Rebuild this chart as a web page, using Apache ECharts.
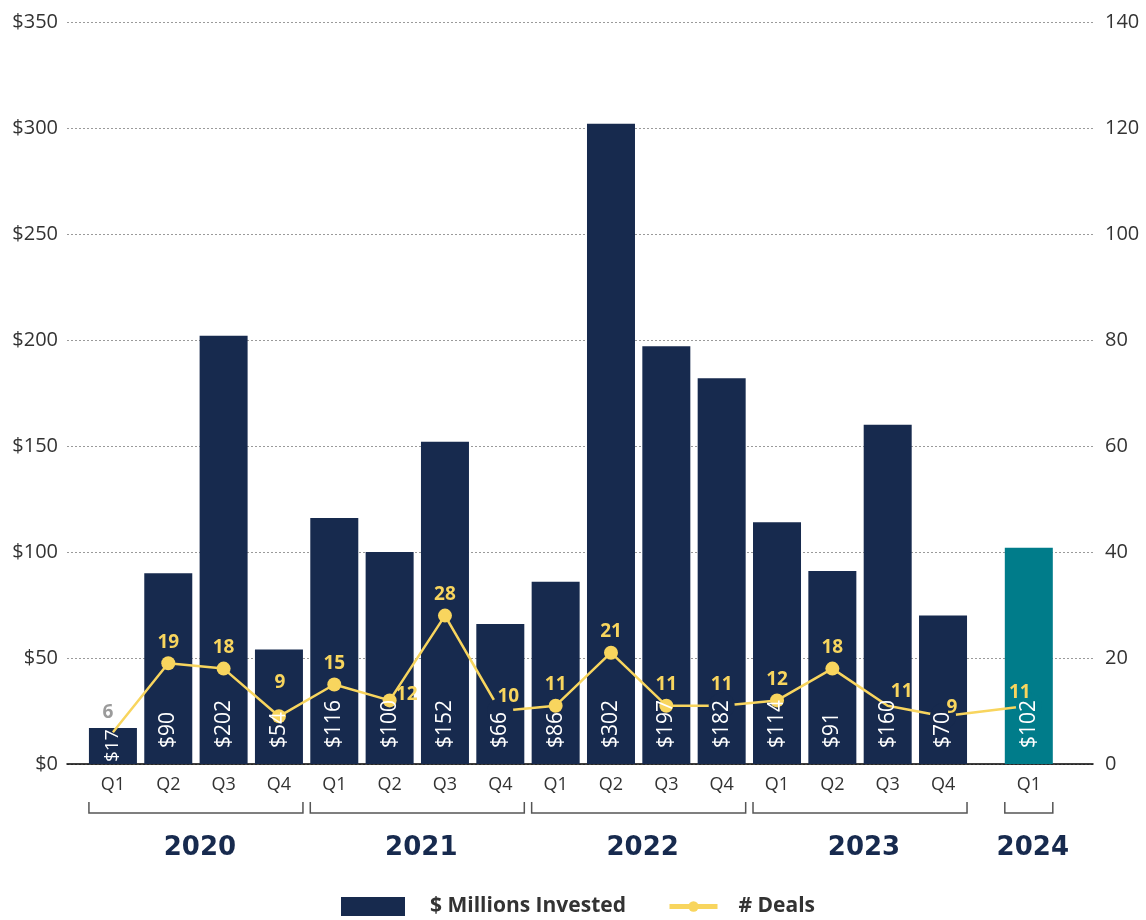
<!DOCTYPE html>
<html>
<head>
<meta charset="utf-8">
<title>Investment by Quarter</title>
<script src="https://cdn.jsdelivr.net/npm/echarts@6/dist/echarts.min.js"></script>
<style>
  html, body { margin: 0; padding: 0; background: #ffffff; }
  #chart { width: 1146px; height: 920px; }
</style>
</head>
<body>
<div id="chart"></div>
<script>
// Quarterly data, 2020 Q1 through 2024 Q1
const quarters = ['Q1', 'Q2', 'Q3', 'Q4', 'Q1', 'Q2', 'Q3', 'Q4', 'Q1', 'Q2', 'Q3', 'Q4', 'Q1', 'Q2', 'Q3', 'Q4', 'Q1'];
const invested = [17, 90, 202, 54, 116, 100, 152, 66, 86, 302, 197, 182, 114, 91, 160, 70, 102];
const deals = [6, 19, 18, 9, 15, 12, 28, 10, 11, 21, 11, 11, 12, 18, 11, 9, 11];
const years = ['2020', '2021', '2022', '2023', '2024'];
const quartersPerYear = [4, 4, 4, 4, 1];

const NAVY = '#172a4e';
const TEAL = '#007c8a';
const YELLOW = '#f8d55e';
const TEXT = '#333333';
const FONT = '"Open Sans", Lato, sans-serif';
const YEAR_FONT = '"DejaVu Sans", "Open Sans", sans-serif';
const BAR_W = 48;

// Slot position on the x scale; the latest year sits a little apart
const YEAR_GAP = 0.55;
const slot = i => i + (i >= 16 ? YEAR_GAP : 0);

// Deal-count label placement around each point: [dx, dy]
const dealLabelShift = {
  0: [-5, -20], 3: [1, -34], 5: [17, -6], 7: [8, -14],
  14: [14, -14], 15: [9, -9], 16: [-9, -13]
};
// Points whose marker is not shown; a colour means the line is masked there
const dealMask = { 0: null, 7: NAVY, 11: NAVY, 14: null, 15: NAVY, 16: TEAL };

const barColor = i => (i === 16 ? TEAL : NAVY);

const barData = invested.map((v, i) => ({
  value: [slot(i), v],
  itemStyle: { color: barColor(i) }
}));

const lineData = deals.map((v, i) => {
  const shift = dealLabelShift[i] || [0, -21];
  const item = {
    value: [slot(i), v],
    label: { offset: shift, color: i === 0 ? '#9b9b9b' : YELLOW }
  };
  if (i in dealMask) {
    if (dealMask[i] === null) {
      item.symbolSize = 0;
    } else {
      item.symbolSize = 26;
      item.itemStyle = { color: dealMask[i], borderWidth: 0 };
    }
  }
  return item;
});

// Year groups: first and last slot of each year
const yearGroups = [];
let start = 0;
quartersPerYear.forEach(n => {
  yearGroups.push([slot(start), 0, slot(start + n - 1)]);
  start += n;
});

const chart = echarts.init(document.getElementById('chart'), null, { renderer: 'canvas' });

const legendText = { fontSize: 21, fontWeight: 'bold', color: TEXT, fontFamily: FONT };

chart.setOption({
  animation: false,
  backgroundColor: '#ffffff',
  textStyle: { fontFamily: FONT },
  grid: { left: 67, right: 53, top: 22, bottom: 156, containLabel: false },
  legend: [
    {
      data: ['$ Millions Invested'],
      left: 341, top: 896, padding: 0,
      itemWidth: 64, itemHeight: 19,
      icon: 'rect',
      textStyle: Object.assign({ padding: [0, 0, 0, 20] }, legendText)
    },
    {
      data: ['# Deals'],
      left: 667, top: 896, padding: 0,
      itemWidth: 48, itemHeight: 13,
      lineStyle: { width: 5, color: YELLOW },
      itemStyle: { color: YELLOW },
      textStyle: Object.assign({ padding: [0, 0, 0, 16] }, legendText)
    }
  ],
  xAxis: {
    type: 'value',
    min: -0.83,
    max: 17.71,
    axisLine: { show: true, onZero: false, lineStyle: { color: '#000000', width: 1.5 } },
    axisTick: { show: false },
    axisLabel: { show: false },
    splitLine: { show: false }
  },
  yAxis: [
    {
      type: 'value',
      min: 0, max: 350, interval: 50,
      axisLine: { show: false },
      axisTick: { show: false },
      axisLabel: { formatter: '${value}', color: TEXT, fontSize: 20, margin: 9, fontFamily: FONT },
      splitLine: { show: true, lineStyle: { color: '#9a9a9a', type: [2, 2], width: 1 } }
    },
    {
      type: 'value',
      min: 0, max: 140, interval: 20,
      position: 'right',
      axisLine: { show: false },
      axisTick: { show: false },
      axisLabel: { color: TEXT, fontSize: 20, margin: 12, fontFamily: FONT },
      splitLine: { show: false }
    }
  ],
  series: [
    {
      name: '$ Millions Invested',
      type: 'bar',
      data: barData,
      barWidth: BAR_W,
      itemStyle: { color: NAVY },
      emphasis: { disabled: true },
      z: 2
    },
    {
      name: '# Deals',
      type: 'line',
      yAxisIndex: 1,
      data: lineData,
      symbol: 'circle',
      symbolSize: 14,
      showAllSymbol: true,
      itemStyle: { color: YELLOW },
      lineStyle: { color: YELLOW, width: 2.5 },
      label: {
        show: true,
        position: 'inside',
        fontSize: 19,
        fontWeight: 'bold',
        fontFamily: FONT,
        color: YELLOW,
        formatter: p => String(p.value[1])
      },
      emphasis: { disabled: true },
      z: 3
    },
    {
      // Dollar values written upwards inside each bar, above the deal line
      type: 'custom',
      silent: true,
      clip: false,
      data: invested.map((v, i) => [slot(i), v]),
      encode: { x: 0, y: 1 },
      renderItem: (params, api) => {
        const v = api.value(1);
        const base = api.coord([api.value(0), 0]);
        const short = v < 30;
        return {
          type: 'text',
          x: base[0], y: base[1] - (short ? 2 : 16),
          rotation: Math.PI / 2,
          style: {
            text: '$' + v,
            fill: '#ffffff',
            font: (short ? '19px ' : '21px ') + FONT,
            align: 'left',
            verticalAlign: 'middle'
          }
        };
      },
      z: 5
    },
    {
      // Quarter labels under the axis
      type: 'custom',
      silent: true,
      clip: false,
      data: quarters.map((q, i) => [slot(i), 0]),
      encode: { x: 0, y: 1 },
      renderItem: (params, api) => {
        const p = api.coord([api.value(0), 0]);
        return {
          type: 'text',
          x: p[0], y: p[1] + 21,
          style: {
            text: quarters[params.dataIndex],
            fill: TEXT,
            font: '18px ' + FONT,
            align: 'center',
            verticalAlign: 'middle'
          }
        };
      }
    },
    {
      // Year brackets and year names
      type: 'custom',
      silent: true,
      clip: false,
      data: yearGroups,
      encode: { x: [0, 2], y: 1 },
      renderItem: (params, api) => {
        const a = api.coord([api.value(0), 0]);
        const b = api.coord([api.value(2), 0]);
        const x0 = a[0] - BAR_W / 2;
        const x1 = b[0] + BAR_W / 2;
        const yLine = a[1] + 49;
        const yTop = a[1] + 38;
        const stroke = { stroke: '#555555', lineWidth: 1.5, fill: null };
        return {
          type: 'group',
          children: [
            { type: 'polyline', shape: { points: [[x0, yTop], [x0, yLine], [x1, yLine], [x1, yTop]] }, style: stroke },
            {
              type: 'text',
              x: (x0 + x1) / 2 + 4, y: a[1] + 84,
              style: {
                text: years[params.dataIndex],
                fill: NAVY,
                font: 'bold 26px ' + YEAR_FONT,
                align: 'center',
                verticalAlign: 'middle'
              }
            }
          ]
        };
      }
    }
  ]
});
</script>
</body>
</html>
